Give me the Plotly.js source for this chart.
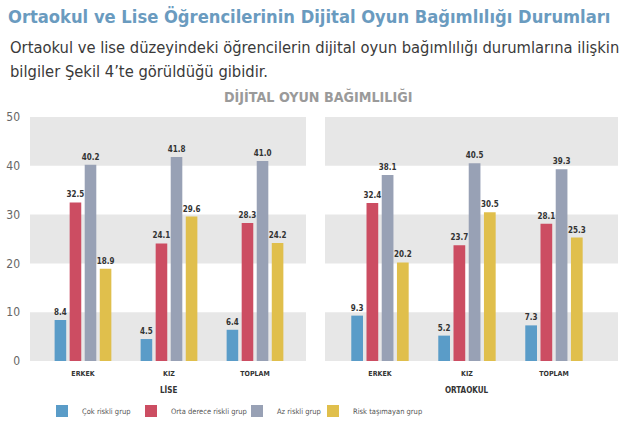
<!DOCTYPE html>
<html>
<head>
<meta charset="utf-8">
<script src="https://cdn.plot.ly/plotly-3.0.1.min.js"></script>
<style>
html,body{margin:0;padding:0;background:#fff;}
#chart{width:640px;height:434px;}
</style>
</head>
<body>
<div id="chart"></div>
<script>
const categories = ["ERKEK", "KIZ", "TOPLAM"];
const seriesNames = ["Çok riskli grup", "Orta derece riskli grup", "Az riskli grup", "Risk taşımayan grup"];
const liseCokRiskli = [8.4, 4.5, 6.4];
const liseOrtaDerece = [32.5, 24.1, 28.3];
const liseAzRiskli = [40.2, 41.8, 41.0];
const liseRiskTasimayan = [18.9, 29.6, 24.2];
const ortaokulCokRiskli = [9.3, 5.2, 7.3];
const ortaokulOrtaDerece = [32.4, 23.7, 28.1];
const ortaokulAzRiskli = [38.1, 40.5, 39.3];
const ortaokulRiskTasimayan = [20.2, 30.5, 25.3];
const yTicks = [0, 10, 20, 30, 40, 50];

const colors = ["#5a9cc8", "#cc4d62", "#98a1b5", "#e0bf4c"];
const FONT = "DejaVu Sans Condensed, Liberation Sans Narrow, Roboto, sans-serif";

const lise = [liseCokRiskli, liseOrtaDerece, liseAzRiskli, liseRiskTasimayan];
const orta = [ortaokulCokRiskli, ortaokulOrtaDerece, ortaokulAzRiskli, ortaokulRiskTasimayan];
const legendIds = ["legend", "legend2", "legend3", "legend4"];

const traces = [];
lise.forEach((vals, i) => {
  traces.push({
    type: "bar", x: categories, y: vals, name: seriesNames[i],
    marker: {color: colors[i]}, legend: legendIds[i], legendgroup: "g" + i,
    texttemplate: "%{y:.1f}", textposition: "outside", cliponaxis: false, constraintext: "none",
    textfont: {family: FONT, size: 8, color: "#333", weight: "bold"},
    xaxis: "x", yaxis: "y", hoverinfo: "x+y+name"
  });
});
orta.forEach((vals, i) => {
  traces.push({
    type: "bar", x: categories, y: vals, name: seriesNames[i],
    marker: {color: colors[i]}, legendgroup: "g" + i, showlegend: false,
    texttemplate: "%{y:.1f}", textposition: "outside", cliponaxis: false, constraintext: "none",
    textfont: {family: FONT, size: 8, color: "#333", weight: "bold"},
    xaxis: "x2", yaxis: "y2", hoverinfo: "x+y+name"
  });
});

const W = 640, H = 434;
const px = v => v / W, py = v => 1 - v / H;

const bands = [];
[["x", "y"], ["x2", "y2"]].forEach(([xa, ya]) => {
  [[0, 10], [20, 30], [40, 50]].forEach(([a, b]) => {
    bands.push({type: "rect", xref: xa + " domain", yref: ya, x0: 0, x1: 1, y0: a, y1: b,
      fillcolor: "#e7e7e7", line: {width: 0}, layer: "below"});
  });
});

const legendX = [42, 131, 237, 313];
const legends = {};
legendIds.forEach((id, i) => {
  legends[id] = {x: px(legendX[i]), y: py(411), xanchor: "left", yanchor: "middle",
    orientation: "h", bgcolor: "rgba(0,0,0,0)", borderwidth: 0,
    font: {family: FONT, size: 7.5, color: "#555"}, itemwidth: 30};
});

const axisX = {
  type: "category", showgrid: false, zeroline: false, showline: false,
  tickfont: {family: FONT, size: 7, color: "#333", weight: "bold"}, ticks: "", ticklabelstandoff: 7, fixedrange: true
};
const layout = Object.assign({
  width: W, height: H,
  margin: {l: 0, r: 0, t: 0, b: 0},
  paper_bgcolor: "#fff", plot_bgcolor: "rgba(0,0,0,0)",
  barmode: "group", bargap: 0.30, bargroupgap: 0.23,
  showlegend: true,
  title: {text: "<b>Ortaokul ve Lise Öğrencilerinin Dijital Oyun Bağımlılığı Durumları</b>",
    x: px(8), xanchor: "left", xref: "paper", y: py(17), yanchor: "middle", yref: "paper",
    font: {family: FONT, size: 18.2, color: "#6a9bbf"}},
  xaxis: Object.assign({}, axisX, {domain: [px(30), px(306)], range: [-0.616, 2.593], anchor: "y"}),
  xaxis2: Object.assign({}, axisX, {domain: [px(325), px(618)], range: [-0.632, 2.736], anchor: "y2"}),
  yaxis: {domain: [py(361), py(117)], range: [0, 50], tickvals: yTicks, showgrid: false, zeroline: false,
    tickfont: {family: FONT, size: 12, color: "#666"}, ticks: "", ticklabelstandoff: 9, fixedrange: true, anchor: "x"},
  yaxis2: {domain: [py(361), py(117)], range: [0, 50], tickvals: yTicks, showgrid: false, zeroline: false,
    showticklabels: false, ticks: "", fixedrange: true, anchor: "x2"},
  shapes: bands,
  annotations: [
    {text: "Ortaokul ve lise düzeyindeki öğrencilerin dijital oyun bağımlılığı durumlarına ilişkin",
      x: px(8), y: py(48), xref: "paper", yref: "paper", xanchor: "left", yanchor: "middle", showarrow: false,
      font: {family: FONT, size: 16.4, color: "#3a3a3a"}},
    {text: "bilgiler Şekil 4’te görüldüğü gibidir.",
      x: px(8), y: py(72), xref: "paper", yref: "paper", xanchor: "left", yanchor: "middle", showarrow: false,
      font: {family: FONT, size: 16.4, color: "#3a3a3a"}},
    {text: "<b>DİJİTAL OYUN BAĞIMLILIĞI</b>",
      x: px(318), y: py(97), xref: "paper", yref: "paper", xanchor: "center", yanchor: "middle", showarrow: false,
      font: {family: FONT, size: 14.2, color: "#9a9a9a"}},
    {text: "<b>LİSE</b>", x: px(168), y: py(390), xref: "paper", yref: "paper", xanchor: "center", yanchor: "middle",
      showarrow: false, font: {family: FONT, size: 8, color: "#333"}},
    {text: "<b>ORTAOKUL</b>", x: px(467), y: py(390), xref: "paper", yref: "paper", xanchor: "center", yanchor: "middle",
      showarrow: false, font: {family: FONT, size: 8, color: "#333"}}
  ]
}, legends);

Plotly.newPlot("chart", traces, layout, {displayModeBar: false, staticPlot: true});
</script>
</body>
</html>
